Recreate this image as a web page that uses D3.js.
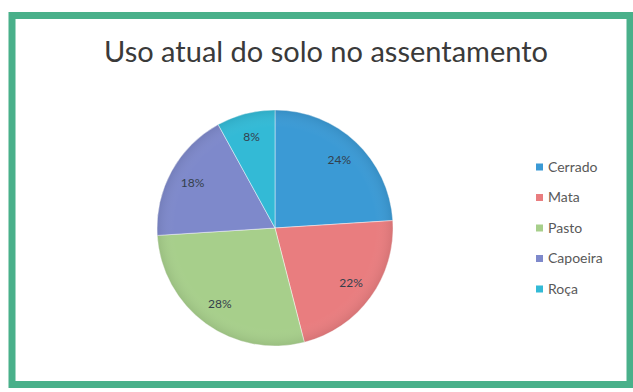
<!DOCTYPE html>
<html>
<head>
<meta charset="utf-8">
<script src="https://cdn.jsdelivr.net/npm/d3@7"></script>
<style>
  html, body { margin: 0; padding: 0; background: #ffffff; }
  svg { display: block; }
</style>
</head>
<body>
<svg id="chart" width="633" height="392"></svg>
<script>
// Land use shares in the settlement
const categories = ["Cerrado", "Mata", "Pasto", "Capoeira", "Roça"];
const values = [24, 22, 28, 18, 8];
const colors = ["#3b9ad5", "#e97d7f", "#a7cf8b", "#7e89cb", "#33bad6"];
const title = "Uso atual do solo no assentamento";

const svg = d3.select("#chart");

// outer green frame
svg.append("rect")
  .attr("x", 12).attr("y", 15.5)
  .attr("width", 618).attr("height", 369)
  .attr("fill", "#ffffff")
  .attr("stroke", "#49b08a")
  .attr("stroke-width", 7);

// title
svg.append("text")
  .attr("x", 326).attr("y", 62)
  .attr("text-anchor", "middle")
  .attr("font-family", "Lato, 'Open Sans', sans-serif")
  .attr("font-size", 29)
  .attr("fill", "#3a3a3a")
  .text(title);

// pie
const cx = 275, cy = 228, R = 118;
const pie = d3.pie().sort(null).value(d => d)(values);
const arc = d3.arc().innerRadius(0).outerRadius(R);
const labelArc = d3.arc().innerRadius(94).outerRadius(94);

const g = svg.append("g").attr("transform", `translate(${cx},${cy})`);

const defs = svg.append("defs");
const shade = defs.append("radialGradient")
  .attr("id", "shade")
  .attr("cx", "50%").attr("cy", "50%").attr("r", "50%");
shade.append("stop").attr("offset", "0%").attr("stop-color", "#ffffff").attr("stop-opacity", 0);
shade.append("stop").attr("offset", "85%").attr("stop-color", "#ffffff").attr("stop-opacity", 0);
shade.append("stop").attr("offset", "100%").attr("stop-color", "#000000").attr("stop-opacity", 0.08);

g.selectAll("path.slice")
  .data(pie)
  .join("path")
  .attr("class", "slice")
  .attr("d", arc)
  .attr("fill", (d, i) => colors[i])
  .attr("stroke", "#ffffff")
  .attr("stroke-opacity", 0.45)
  .attr("stroke-width", 1);

g.append("circle")
  .attr("r", R)
  .attr("fill", "url(#shade)");

g.selectAll("text.lbl")
  .data(pie)
  .join("text")
  .attr("class", "lbl")
  .attr("transform", d => `translate(${labelArc.centroid(d)})`)
  .attr("text-anchor", "middle")
  .attr("dy", "0.35em")
  .attr("font-family", "Lato, 'Open Sans', sans-serif")
  .attr("font-size", 12)
  .attr("fill", "#34404c")
  .text(d => d.data + "%");

// legend
const legend = svg.append("g").attr("transform", "translate(536,167)");
const rows = legend.selectAll("g")
  .data(categories)
  .join("g")
  .attr("transform", (d, i) => `translate(0,${i * 30.5})`);
rows.append("rect")
  .attr("x", 0).attr("y", -3.5)
  .attr("width", 7).attr("height", 7)
  .attr("fill", (d, i) => colors[i]);
rows.append("text")
  .attr("x", 12)
  .attr("dy", "0.35em")
  .attr("font-family", "Lato, 'Open Sans', sans-serif")
  .attr("font-size", 14)
  .attr("fill", "#595959")
  .text(d => d);
</script>
</body>
</html>
